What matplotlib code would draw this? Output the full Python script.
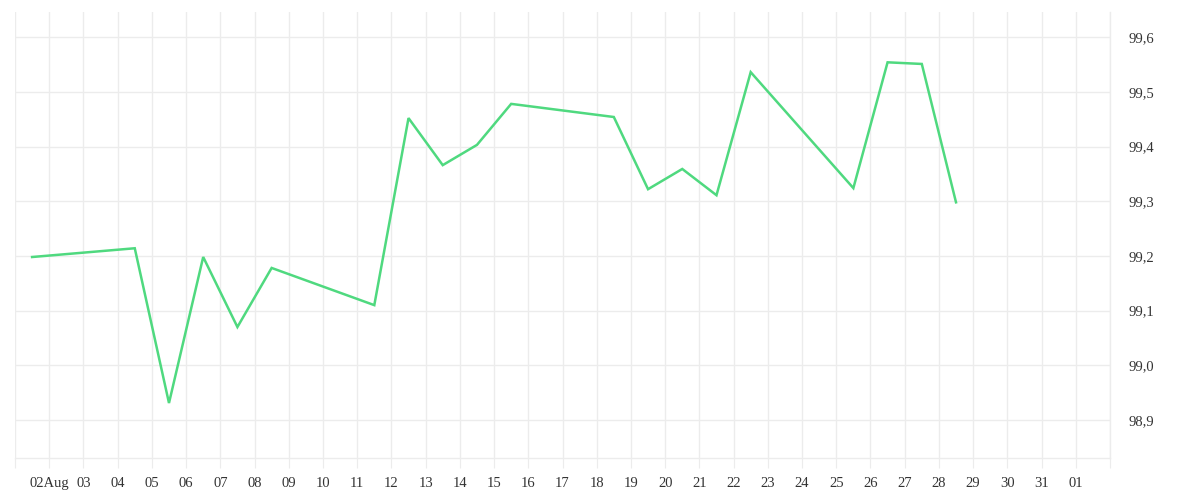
import numpy as np
import pandas as pd
import matplotlib
matplotlib.use('Agg')
import matplotlib.pyplot as plt
import matplotlib.dates as mdates
from matplotlib.ticker import FixedLocator, FuncFormatter

# daily values (Aug), plotted at midday
days = [1, 4, 5, 6, 7, 8, 11, 12, 13, 14, 15, 18, 19, 20, 21, 22, 25, 26, 27, 28]
values = [99.198, 99.214, 98.931, 99.198, 99.070, 99.178, 99.110, 99.452, 99.366,
          99.403, 99.478, 99.454, 99.322, 99.359, 99.311, 99.536, 99.324, 99.554,
          99.551, 99.298]
yticks = [98.9, 99.0, 99.1, 99.2, 99.3, 99.4, 99.5, 99.6]

dates = pd.to_datetime(['2019-08-%02d 12:00' % d for d in days])

plt.rcParams['font.family'] = ['Liberation Serif', 'DejaVu Serif']
grid_c = '#ececec'
text_c = '#333333'

fig = plt.figure(figsize=(12, 5), dpi=100)
ax = fig.add_axes([0.0125, 0.084, 0.9125, 0.892])

ax.plot(dates, values, color='#4fd97f', lw=1.8, solid_joinstyle='miter')

x0 = pd.Timestamp('2019-08-01')
x1 = pd.Timestamp('2019-09-02')
ax.set_xlim(x0, x1)
ax.set_ylim(98.8305, 99.646)

tick_days = pd.date_range(x0, x1, freq='D')
ax.xaxis.set_major_locator(FixedLocator(mdates.date2num(tick_days)))

def fmt_x(v, pos):
    d = mdates.num2date(v)
    if pos == 0 or pos == len(tick_days) - 1:
        return ''
    if d.month == 8 and d.day == 2:
        return '02Aug'
    return d.strftime('%d')

ax.xaxis.set_major_formatter(FuncFormatter(fmt_x))

ax.yaxis.tick_right()
ax.set_yticks(yticks)
ax.yaxis.set_major_formatter(FuncFormatter(lambda v, p: ('%.1f' % v).replace('.', ',')))

ax.grid(True, color=grid_c, lw=1)
ax.set_axisbelow(True)
for s in ['top', 'left']:
    ax.spines[s].set_visible(False)
for s in ['right', 'bottom']:
    ax.spines[s].set_color(grid_c)
    ax.spines[s].set_linewidth(1)

ax.tick_params(axis='x', length=7.5, color=grid_c, labelsize=10.5, labelcolor=text_c, pad=6)
ax.tick_params(axis='y', length=0, labelsize=10.5, labelcolor=text_c, pad=13)

fig.savefig('out.png', dpi=100, facecolor='white')
